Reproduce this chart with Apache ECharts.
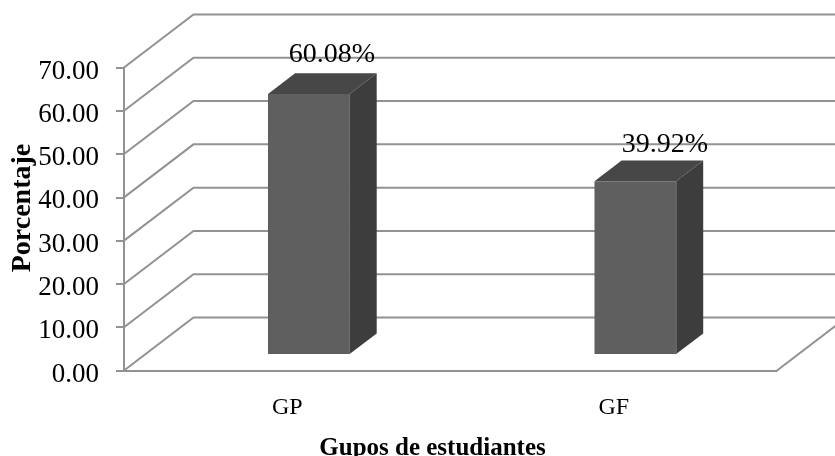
<!DOCTYPE html>
<html><head><meta charset="utf-8">
<style>html,body{margin:0;padding:0;background:#fff}#c{width:835px;height:456px}</style>
<script src="https://cdn.jsdelivr.net/npm/echarts@6/dist/echarts.min.js"></script>
</head><body><div id="c"></div>
<script>
const categories = ['GP', 'GF'];
const values = [60.08, 39.92];
const valueLabels = ['60.08%', '39.92%'];
const yTicks = [0, 10, 20, 30, 40, 50, 60, 70];

const FONT = '"Liberation Serif"';
const LINE = '#929292';
const DEPTH_X = 69.5, DEPTH_Y = -53;
const BAR_FRONT = 0.31, BAR_BACK = 0.70, BAR_W = 0.25;
const LABEL_SHIFT = [[23, -39], [29.5, -37]];

function renderWall(params, api) {
  const cs = params.coordSys;
  const y = api.coord([0, api.value(0)])[1];
  const x0 = cs.x, x1 = cs.x + cs.width;
  const children = [{
    type: 'polyline',
    shape: { points: [[x0, y], [x0 + DEPTH_X, y + DEPTH_Y], [x1 + DEPTH_X, y + DEPTH_Y]] },
    style: { stroke: LINE, lineWidth: 2, fill: null }
  }];
  if (api.value(0) === 0) {
    children.push({
      type: 'line',
      shape: { x1: x1, y1: y, x2: x1 + DEPTH_X, y2: y + DEPTH_Y },
      style: { stroke: LINE, lineWidth: 2 }
    });
  }
  return { type: 'group', children };
}

function renderBar(params, api) {
  const i = api.value(0);
  const base = api.coord([i, 0]);
  const top = api.coord([i, api.value(1)]);
  const w = api.size([1, 0])[0] * BAR_W;
  const fx = base[0] + DEPTH_X * BAR_FRONT - w / 2;
  const fy = DEPTH_Y * BAR_FRONT;
  const dx = DEPTH_X * (BAR_BACK - BAR_FRONT), dy = DEPTH_Y * (BAR_BACK - BAR_FRONT);
  const yb = base[1] + fy, yt = top[1] + fy;
  const sh = LABEL_SHIFT[i];
  return {
    type: 'group',
    children: [
      { type: 'polygon', shape: { points: [[fx + w, yt], [fx + w + dx, yt + dy], [fx + w + dx, yb + dy], [fx + w, yb]] }, style: { fill: '#3d3d3d' } },
      { type: 'polygon', shape: { points: [[fx, yt], [fx + dx, yt + dy], [fx + w + dx, yt + dy], [fx + w, yt]] }, style: { fill: '#474747' } },
      { type: 'rect', shape: { x: fx, y: yt, width: w, height: yb - yt }, style: { fill: '#5f5f5f' } },
      { type: 'line', shape: { x1: fx + w, y1: yt, x2: fx + w, y2: yb }, style: { stroke: '#6e6e6e', lineWidth: 1 } },
      { type: 'text', style: { text: valueLabels[i], x: fx + w / 2 + sh[0], y: yt + sh[1], align: 'center', verticalAlign: 'middle', font: '28px ' + FONT, fill: '#000' } }
    ]
  };
}

const chart = echarts.init(document.getElementById('c'), null, { renderer: 'canvas' });
chart.setOption({
  animation: false,
  backgroundColor: '#fff',
  grid: { left: 124, right: 58, top: 67.5, bottom: 85.5, containLabel: false, outerBoundsMode: 'none' },
  xAxis: {
    type: 'category', data: categories, boundaryGap: true,
    axisTick: { show: false },
    axisLine: { show: true, lineStyle: { color: LINE, width: 2 } },
    axisLabel: { fontFamily: FONT, fontSize: 24, color: '#000', margin: 25 },
    name: 'Gupos de estudiantes', nameLocation: 'middle', nameGap: 66, nameMoveOverlap: false,
    nameTextStyle: { fontFamily: FONT, fontSize: 25, fontWeight: 'bold', color: '#000', padding: [0, 36, 0, 0] }
  },
  yAxis: {
    type: 'value', min: 0, max: 70, interval: 10,
    splitLine: { show: false },
    axisLine: { show: true, lineStyle: { color: LINE, width: 2 } },
    axisTick: { show: true, length: 8, lineStyle: { color: LINE, width: 2 } },
    axisLabel: {
      color: '#000', margin: 25,
      formatter: v => '{t|' + v.toFixed(2) + '}',
      rich: { t: { fontFamily: FONT, fontSize: 27, color: '#000', padding: [8, 0, 0, 0] } }
    },
    name: 'Porcentaje', nameLocation: 'middle', nameGap: 87, nameRotate: 90, nameMoveOverlap: false,
    nameTextStyle: { fontFamily: FONT, fontSize: 28, fontWeight: 'bold', color: '#000', padding: [0, 0, 0, 22] }
  },
  series: [
    { type: 'custom', name: 'walls', data: yTicks.map(v => [v]), encode: { y: 0 }, renderItem: renderWall, clip: false, z: 1, silent: true },
    { type: 'custom', name: 'Porcentaje', data: values.map((v, i) => [i, v]), encode: { x: 0, y: 1 }, renderItem: renderBar, clip: false, z: 2 }
  ]
});
</script></body></html>
